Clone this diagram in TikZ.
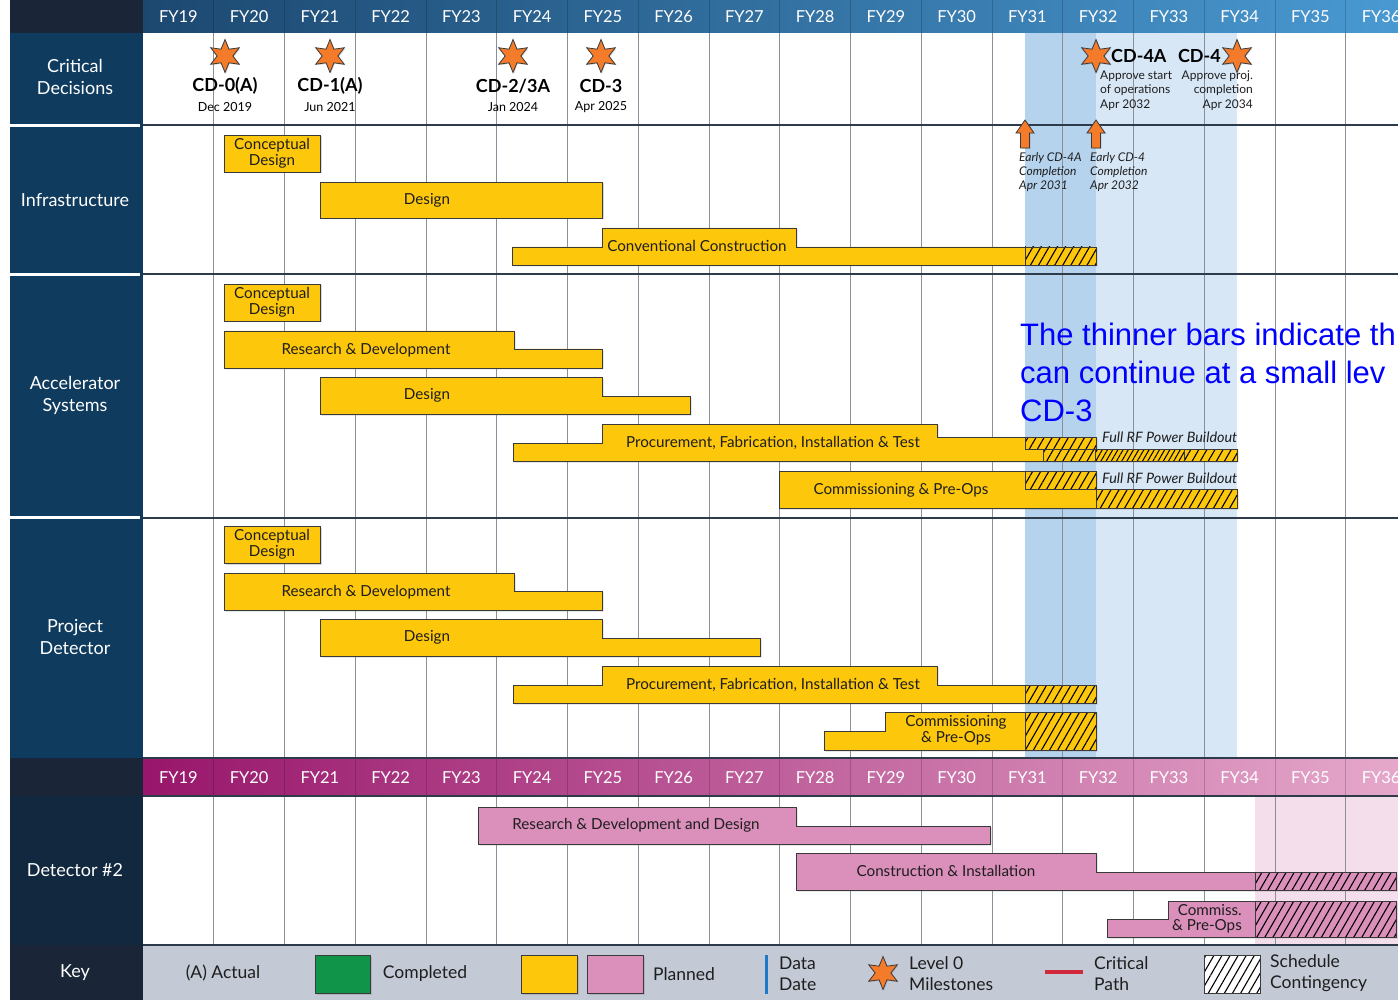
\documentclass[tikz,border=0pt]{standalone}
\usepackage{fontspec}
\setmainfont{Lato}
\newfontfamily\arialf{Liberation Sans}
\usetikzlibrary{shapes.geometric,patterns.meta,shadows}
\definecolor{navy}{HTML}{0F3B5E}
\definecolor{navydark}{HTML}{1A2638}
\definecolor{navyd2}{HTML}{12283F}
\definecolor{hdrL}{HTML}{1C4870}
\definecolor{hdrR}{HTML}{4A9AD3}
\definecolor{magL}{HTML}{98166B}
\definecolor{magR}{HTML}{E6AACC}
\definecolor{bandD}{HTML}{B5D3ED}
\definecolor{bandL}{HTML}{D8E7F6}
\definecolor{bandP}{HTML}{F5DEEB}
\definecolor{yel}{HTML}{FDC70C}
\definecolor{pnk}{HTML}{DB8FBB}
\definecolor{keybg}{HTML}{C4C9D6}
\definecolor{gridc}{HTML}{8A9099}
\definecolor{sepc}{HTML}{2E3B4A}
\definecolor{bdc}{HTML}{3A3A3A}
\definecolor{staror}{HTML}{F47B2A}
\definecolor{grn}{HTML}{10944A}
\definecolor{dblue}{HTML}{1F78C8}
\definecolor{cpred}{HTML}{D0283C}
\definecolor{txtc}{HTML}{1E1E1E}
\newcommand\hatchrect[5]{%
  \fill[#5] (#1,#2) rectangle (#3,#4);
  \fill[hatchp] (#1,#2) rectangle (#3,#4);
  \draw[bd] (#1,#2) rectangle (#3,#4);}
\tikzset{
  bd/.style={draw=bdc,line width=0.9pt},
  shad/.style={drop shadow={opacity=0.3,shadow xshift=1.5pt,shadow yshift=-1.5pt}},
  hatchp/.style={pattern={Lines[angle=60,distance=7pt,line width=1.1pt]},pattern color=black},
  hatchd/.style={pattern={Lines[angle=60,distance=4.5pt,line width=1pt]},pattern color=black},
  bartxt/.style={font=\fontsize{15.2}{15.5}\selectfont,text=txtc,inner sep=0pt,align=center},
  lefttxt/.style={font=\fontsize{18}{22}\selectfont,text=white,inner sep=0pt,align=center},
  fy/.style={font=\fontsize{16.5}{18}\selectfont,text=white,inner sep=0pt},
  grid/.style={draw=gridc,line width=0.8pt},
  sep/.style={draw=sepc,line width=2pt},
  mstar/.style={star,star points=6,star point ratio=2.1,minimum size=33pt,inner sep=0pt,
     fill=staror,draw=bdc,line width=0.8pt,drop shadow={opacity=0.3,shadow xshift=1pt,shadow yshift=-1pt}},
  cdname/.style={font=\bfseries\fontsize{18}{20}\selectfont,text=black,inner sep=0pt},
  cddate/.style={font=\fontsize{12.5}{14.5}\selectfont,text=black,inner sep=0pt},
  smalltxt/.style={font=\fontsize{12}{14.4}\selectfont,text=txtc,inner sep=0pt},
  earlytxt/.style={font=\itshape\fontsize{12}{14.2}\selectfont,text=txtc,inner sep=0pt,align=left},
  rftxt/.style={font=\itshape\fontsize{14.4}{15}\selectfont,text=txtc,inner sep=0pt},
  keytxt/.style={font=\fontsize{17.5}{21}\selectfont,text=txtc,inner sep=0pt,align=left},
  bluetxt/.style={font=\arialf\fontsize{31}{37}\selectfont,text=blue,inner sep=0pt},
  uparrow/.style={fill=staror,draw=bdc,line width=0.8pt,drop shadow={opacity=0.3,shadow xshift=1pt,shadow yshift=-1pt}}
}
\begin{document}
\begin{tikzpicture}[x=1pt,y=-1pt]
\useasboundingbox (0,0) rectangle (1398,1000);
\begin{scope}
\clip (0,0) rectangle (1398,1000);
\fill[white] (0,0) rectangle (1398,1000);
% left column
\fill[navydark] (10,0) rectangle (143,33);
\fill[navy] (10,33) rectangle (143,758);
\fill[navydark] (10,758) rectangle (143,796);
\fill[navyd2] (10,796) rectangle (143,945);
\fill[navydark] (10,945) rectangle (143,1000);
\foreach \yy in {125.5,274.5,517.5} \draw[white,line width=2.2pt] (10,\yy) -- (140,\yy);
% headers
\shade[left color=hdrL,right color=hdrR] (143,0) rectangle (1416,33);
\shade[left color=magL,right color=magR] (143,758) rectangle (1416,796);
\foreach \i in {1,...,17} {
  \draw[black,opacity=0.18,line width=0.8pt] ({143+70.75*\i},0) -- ({143+70.75*\i},33);
  \draw[black,opacity=0.18,line width=0.8pt] ({143+70.75*\i},758) -- ({143+70.75*\i},796);
}
\foreach \i [evaluate=\i as \xc using {143+70.75*\i+35.4}, evaluate=\i as \yr using {int(19+\i)}] in {0,...,17} {
  \node[fy] (fya\i) at (\xc,16.5) {FY\yr};
  \node[fy] (fyb\i) at (\xc,778) {FY\yr};
}
% bands
\fill[bandD] (1025,33) rectangle (1096,758);
\fill[bandL] (1096,33) rectangle (1237,758);
\fill[bandP] (1255,796) rectangle (1398,945);
% grid
\foreach \i in {1,...,17} {
  \draw[grid] ({143+70.75*\i},33) -- ({143+70.75*\i},758);
  \draw[grid] ({143+70.75*\i},796) -- ({143+70.75*\i},945);
}
% key background
\fill[keybg] (143,945) rectangle (1398,1000);
% separators
\foreach \yy in {125.5,274.5,517.5} \draw[sep] (143,\yy) -- (1398,\yy);
\draw[sep] (143,758) -- (1398,758);
\draw[sep] (143,796) -- (1398,796);
\draw[sep] (143,945) -- (1398,945);
% left labels
\node[lefttxt] (lcd) at (75,77) {Critical\\Decisions};
\node[lefttxt] (linf) at (75,200) {Infrastructure};
\node[lefttxt] (lacc) at (75,395) {Accelerator\\Systems};
\node[lefttxt] (lpd) at (75,637) {Project\\Detector};
\node[lefttxt] (ld2) at (75,870) {Detector \#2};
\node[lefttxt] (lkey) at (75,973) {Key};
% critical decisions
\node[mstar] (s1) at (225,56) {};
\node[mstar] (s2) at (330,56) {};
\node[mstar] (s3) at (513,56) {};
\node[mstar] (s4) at (601,56) {};
\node[mstar] (s5) at (1096,56) {};
\node[mstar] (s6) at (1237,56) {};
\node[cdname] (cd0) at (225,86) {CD-0(A)};
\node[cddate] (cd0d) at (225,107) {Dec 2019};
\node[cdname] (cd1) at (330,86) {CD-1(A)};
\node[cddate] (cd1d) at (330,107) {Jun 2021};
\node[cdname] (cd2) at (513,86) {CD-2/3A};
\node[cddate] (cd2d) at (513,107) {Jan 2024};
\node[cdname] (cd3) at (601,86) {CD-3};
\node[cddate] (cd3d) at (601,107) {Apr 2025};
\node[cdname,anchor=west] (cd4a) at (1111,56) {CD-4A};
\node[cdname,anchor=east] (cd4) at (1221,56) {CD-4};
\node[smalltxt,align=left,anchor=north west] (cd4at) at (1100,70.5) {Approve start\\of operations\\Apr 2032};
\node[smalltxt,align=right,anchor=north east] (cd4t) at (1253,70.5) {Approve proj.\\completion\\Apr 2034};
% early arrows
\foreach \ax/\nm in {1025/a1,1096/a2} {
  \draw[uparrow] (\ax,120) -- (\ax+9,133) -- (\ax+4.5,133) -- (\ax+4.5,148) -- (\ax-4.5,148) -- (\ax-4.5,133) -- (\ax-9,133) -- cycle;
}
\node[earlytxt,anchor=north west] (e1) at (1019,152) {Early CD-4A\\Completion\\Apr 2031};
\node[earlytxt,anchor=north west] (e2) at (1090,152) {Early CD-4\\Completion\\Apr 2032};
% ---------- Infrastructure
\draw[bd,fill=yel,shad] (224,135) rectangle (320,172);
\node[bartxt] (i1) at (272,153.5) {Conceptual\\Design};
\draw[bd,fill=yel,shad] (320,182) rectangle (602,218);
\node[bartxt] (i2) at (427,200) {Design};
\draw[bd,fill=yel,shad] (512,265) -- (512,247) -- (602,247) -- (602,228) -- (796,228) -- (796,247) -- (1096,247) -- (1096,265) -- cycle;
\hatchrect{1025}{247}{1096}{265}{yel}
\node[bartxt] (i3) at (697,246) {Conventional Construction};
% ---------- Accelerator
\draw[bd,fill=yel,shad] (224,284) rectangle (320,321);
\node[bartxt] (a1) at (272,302.5) {Conceptual\\Design};
\draw[bd,fill=yel,shad] (224,368) -- (224,331) -- (514,331) -- (514,349) -- (602,349) -- (602,368) -- cycle;
\node[bartxt] (a2) at (366,350) {Research \& Development};
\draw[bd,fill=yel,shad] (320,414) -- (320,377) -- (602,377) -- (602,396) -- (690,396) -- (690,414) -- cycle;
\node[bartxt] (a3) at (427,395) {Design};
\draw[bd,fill=yel,shad] (513,461) -- (513,443) -- (602,443) -- (602,424) -- (937,424) -- (937,437) -- (1096,437) -- (1096,449) -- (1237,449) -- (1237,461) -- cycle;
\hatchrect{1025}{437}{1096}{449}{yel}
\fill[yel] (1043,449) rectangle (1237,461);
\fill[hatchp] (1043,449) rectangle (1095,461);
\fill[hatchd] (1095,449) rectangle (1184,461);
\fill[hatchp] (1184,449) rectangle (1237,461);
\draw[bd] (1043,449) rectangle (1237,461);
\draw[bd] (1095,449) -- (1095,461) (1184,449) -- (1184,461);
\node[bartxt] (a4) at (773,443) {Procurement, Fabrication, Installation \& Test};
\node[rftxt,anchor=west] (rf1) at (1102,437) {Full RF Power Buildout};
\draw[bd,fill=yel,shad] (779,508) -- (779,471) -- (1096,471) -- (1096,489) -- (1237,489) -- (1237,508) -- cycle;
\hatchrect{1025}{471}{1096}{489}{yel}
\hatchrect{1096}{489}{1237}{508}{yel}
\node[bartxt] (a5) at (901,490) {Commissioning \& Pre-Ops};
\node[rftxt,anchor=west] (rf2) at (1102,478) {Full RF Power Buildout};
% ---------- Project Detector
\draw[bd,fill=yel,shad] (224,526) rectangle (320,563);
\node[bartxt] (p1) at (272,544.5) {Conceptual\\Design};
\draw[bd,fill=yel,shad] (224,610) -- (224,573) -- (514,573) -- (514,591) -- (602,591) -- (602,610) -- cycle;
\node[bartxt] (p2) at (366,592) {Research \& Development};
\draw[bd,fill=yel,shad] (320,656) -- (320,619) -- (602,619) -- (602,638) -- (760,638) -- (760,656) -- cycle;
\node[bartxt] (p3) at (427,637) {Design};
\draw[bd,fill=yel,shad] (513,703) -- (513,685) -- (602,685) -- (602,666) -- (937,666) -- (937,685) -- (1096,685) -- (1096,703) -- cycle;
\hatchrect{1025}{685}{1096}{703}{yel}
\node[bartxt] (p4) at (773,685) {Procurement, Fabrication, Installation \& Test};
\draw[bd,fill=yel,shad] (824,750) -- (824,731) -- (885,731) -- (885,712) -- (1096,712) -- (1096,750) -- cycle;
\hatchrect{1025}{712}{1096}{750}{yel}
\node[bartxt] (p5) at (956,730.5) {Commissioning\\\& Pre-Ops};
% ---------- Detector #2
\draw[bd,fill=pnk,shad] (478,844) -- (478,807) -- (796,807) -- (796,826) -- (990,826) -- (990,844) -- cycle;
\node[bartxt] (d1) at (636,825) {Research \& Development and Design};
\draw[bd,fill=pnk,shad] (796,890) -- (796,853) -- (1096,853) -- (1096,872) -- (1396,872) -- (1396,890) -- cycle;
\hatchrect{1255}{872}{1396}{890}{pnk}
\node[bartxt] (d2) at (946,871) {Construction \& Installation};
\draw[bd,fill=pnk,shad] (1107,937) -- (1107,919) -- (1168,919) -- (1168,901) -- (1396,901) -- (1396,937) -- cycle;
\hatchrect{1255}{901}{1396}{937}{pnk}
\node[bartxt,align=right,anchor=east] (d3) at (1242,919) {Commiss.\\\& Pre-Ops};
% ---------- blue note
\node[bluetxt,anchor=base west] (b1) at (1020,346) {The thinner bars indicate th};
\node[bluetxt,anchor=base west] (b2) at (1020,384) {can continue at a small lev};
\node[bluetxt,anchor=base west] (b3) at (1020,421) {CD-3};
% ---------- key
\node[keytxt] (k1) at (223,973) {(A) Actual};
\draw[bd,fill=grn,shad] (315,955) rectangle (370,993);
\node[keytxt] (k2) at (425,974) {Completed};
\draw[bd,fill=yel,shad] (521,955) rectangle (577,993);
\draw[bd,fill=pnk,shad] (587,955) rectangle (643,993);
\node[keytxt] (k3) at (684,974) {Planned};
\draw[dblue,line width=3pt] (766,955) -- (766,994);
\node[keytxt,anchor=west] (k4) at (779,973.5) {Data\\Date};
\node[mstar] (ks) at (883,973) {};
\node[keytxt,anchor=west] (k5) at (909,973.5) {Level 0\\Milestones};
\draw[cpred,line width=3.5pt] (1045,972) -- (1083,972);
\node[keytxt,anchor=west] (k6) at (1094,973.5) {Critical\\Path};
\hatchrect{1204}{955}{1260}{993}{white}
\node[keytxt,anchor=west] (k7) at (1270,973.5) {Schedule\\Contingency};
\end{scope}
\end{tikzpicture}
\end{document}
